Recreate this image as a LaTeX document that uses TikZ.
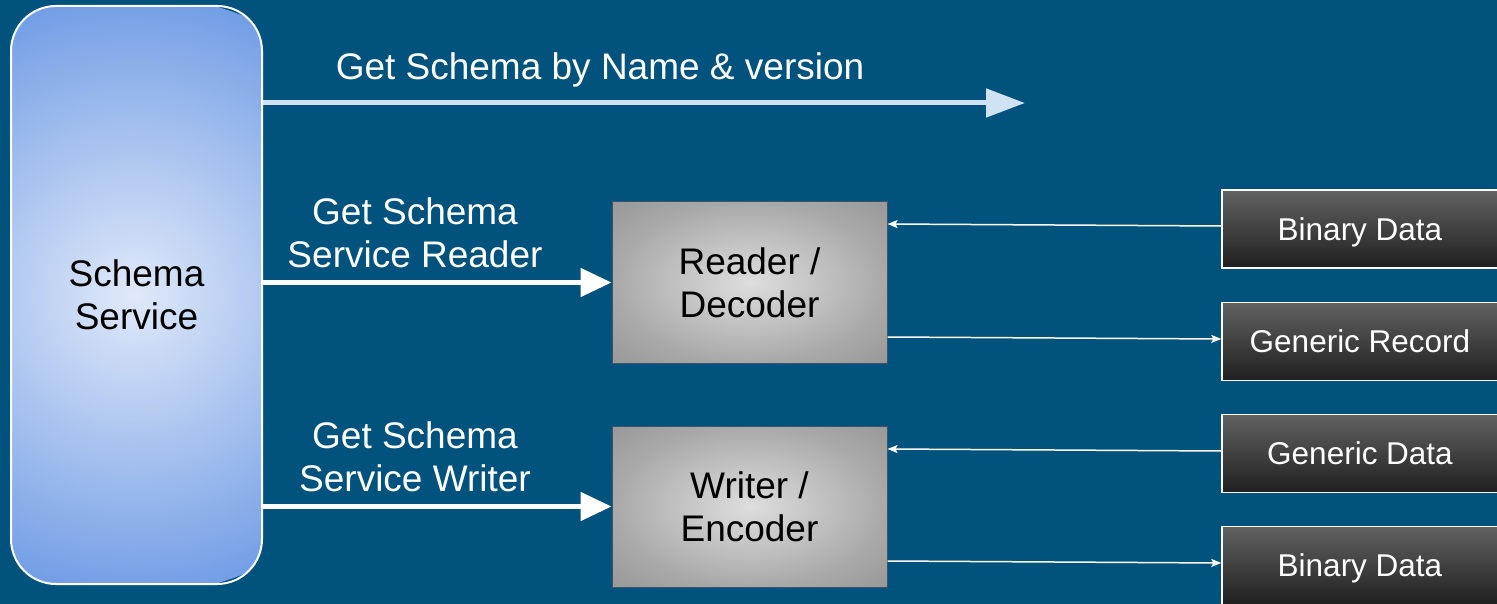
\documentclass[tikz,border=0pt]{standalone}
\usepackage{fontspec}
\setmainfont{Liberation Sans}
\usetikzlibrary{arrows.meta}
\definecolor{bg}{HTML}{01527C}
\definecolor{topline}{HTML}{CFE2F3}
\definecolor{grayedge}{HTML}{3D5566}
\definecolor{darktop}{HTML}{626262}
\definecolor{darkbot}{HTML}{1F1F1F}
\definecolor{svcin}{HTML}{E0E9F9}
\definecolor{svcout}{HTML}{739EE5}
\pgfdeclareradialshading{grayshade}{\pgfpoint{0bp}{0bp}}{rgb(0bp)=(0.87,0.87,0.87); rgb(25bp)=(0.66,0.66,0.66); rgb(35bp)=(0.60,0.60,0.60); rgb(50bp)=(0.58,0.58,0.58)}
\begin{document}
\begin{tikzpicture}[x=1pt,y=-1pt,
  bigfont/.style={font=\fontsize{37}{43}\selectfont},
  smallfont/.style={font=\fontsize{31.5}{38}\selectfont},
  svcbox/.style={draw=white, line width=2pt, rounded corners=45pt,
    path picture={\shade[inner color=svcin, outer color=svcout]
      ([xshift=-3pt]path picture bounding box.center) circle (300pt);},
    minimum width=251pt, minimum height=578pt, inner sep=0pt, align=center, bigfont, text=black},
  codecbox/.style={draw=grayedge, line width=1pt, shading=grayshade,
    minimum width=275pt, minimum height=161pt, inner sep=0pt, align=center, bigfont, text=black},
  databox/.style={draw=white, line width=1.5pt, top color=darktop, bottom color=darkbot,
    minimum width=276pt, minimum height=78pt, inner sep=0pt, text height=22.5pt, text depth=0pt,
    smallfont, text=white},
  lbl/.style={bigfont, text=white, align=center},
  toparrow/.style={draw=topline, line width=5pt, -{Triangle[length=39pt,width=28pt]}},
  bigarrow/.style={draw=white, line width=5pt, -{Triangle[length=31pt,width=28pt]}},
  thinarrow/.style={draw=white, line width=1.5pt, -{Stealth[length=10pt,width=8pt,inset=2pt]}}
]
\useasboundingbox[fill=bg] (0,0) rectangle (1497,604);

\node[svcbox] (svc) at (136.5,295) {Schema\\Service};
\node[codecbox] (reader) at (749.5,282.5) {Reader /\\Decoder};
\node[codecbox] (writer) at (749.5,506.5) {Writer /\\Encoder};

\node[databox] (bd1) at (1360,229) {Binary Data};
\node[databox] (gr) at (1360,341.5) {Generic Record};
\node[databox] (gd) at (1360,453.5) {Generic Data};
\node[databox] (bd2) at (1360,565.5) {Binary Data};

\coordinate (topend) at (1025,103);
\draw[toparrow] (svc.east |- topend) -- (topend);
\node[lbl] (toplbl) at (600,70) {Get Schema by Name \& version};

\draw[bigarrow] (svc.east |- reader.west) -- (reader.west);
\node[lbl] (rlbl) at (415,233) {Get Schema\\Service Reader};
\draw[bigarrow] (svc.east |- writer.west) -- (writer.west);
\node[lbl] (wlbl) at (415,457) {Get Schema\\Service Writer};

\draw[thinarrow] ([yshift=3pt]bd1.west) -- ([yshift=58.5pt]reader.east);
\draw[thinarrow] ([yshift=-54.5pt]reader.east) -- ([yshift=2.5pt]gr.west);
\draw[thinarrow] ([yshift=2.5pt]gd.west) -- ([yshift=57.5pt]writer.east);
\draw[thinarrow] ([yshift=-54.5pt]writer.east) -- ([yshift=2.5pt]bd2.west);
\end{tikzpicture}
\end{document}
